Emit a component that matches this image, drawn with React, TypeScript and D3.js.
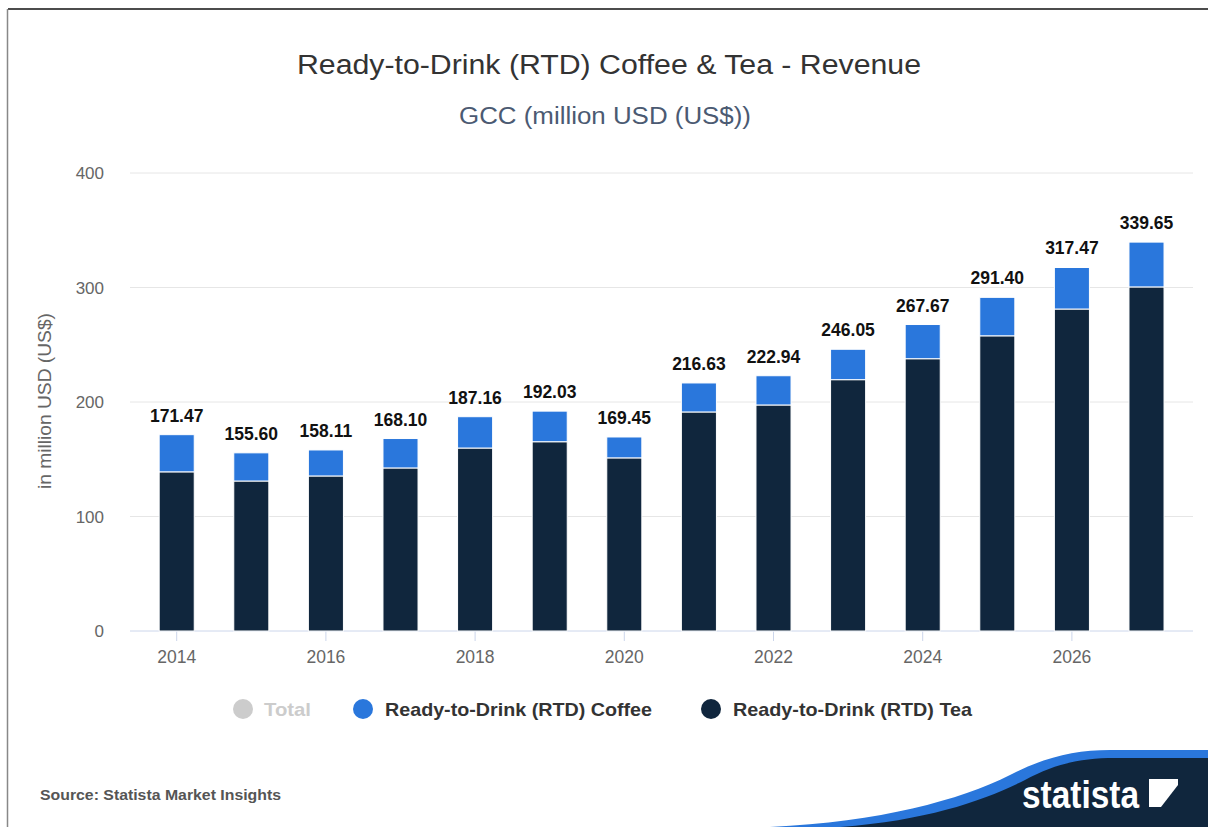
import React from "react";
import * as d3 from "d3";

const years = ["2014","2015","2016","2017","2018","2019","2020","2021","2022","2023","2024","2025","2026","2027"];
const totals = [171.47,155.6,158.11,168.1,187.16,192.03,169.45,216.63,222.94,246.05,267.67,291.4,317.47,339.65];
const tea = [139.0,131.0,135.4,142.4,159.8,165.3,151.2,191.3,197.4,219.5,237.8,257.8,281.2,300.5];
const coffee = totals.map((t, i) => +(t - tea[i]).toFixed(2));
const yTicks = [0,100,200,300,400];
const xTickYears = ["2014","2016","2018","2020","2022","2024","2026"];

const W = 1208, H = 827;
const FONT = "'Liberation Sans', Arial, Helvetica, sans-serif";
const COFFEE = "#2a77dc";
const TEA = "#10263d";

export default function App() {
  const x = d3.scaleBand<string>().domain(years).range([139.4, 1183.8]).paddingInner(0.53).paddingOuter(0.265);
  const y = d3.scaleLinear().domain([0, 400]).range([631, 173]);
  const stack = d3.stack<any>().keys(["tea","coffee"])(years.map((yr, i) => ({ yr, tea: tea[i], coffee: coffee[i] })));
  const colors: Record<string,string> = { tea: TEA, coffee: COFFEE };
  return (
    <div style={{ position: "absolute", left: 0, top: 0, width: W, height: H, background: "#fff" }}>
      <svg width={W} height={H} style={{ display: "block", fontFamily: FONT }}>
        <rect x={0} y={0} width={W} height={H} fill="#fff" />
        <line x1={8} y1={9} x2={W} y2={9} stroke="#111" strokeWidth={1.5} />
        <line x1={7.5} y1={9} x2={7.5} y2={H} stroke="#888" strokeWidth={1.5} />
        <text x={297} y={74} fontSize={27} fill="#333" textLength={624} lengthAdjust="spacingAndGlyphs">Ready-to-Drink (RTD) Coffee &amp; Tea - Revenue</text>
        <text x={459} y={124} fontSize={23} fill="#4b5a72" textLength={292} lengthAdjust="spacingAndGlyphs">GCC (million USD (US$))</text>
        {yTicks.map(t => (
          <g key={t}>
            <line x1={130} x2={1193} y1={y(t)} y2={y(t)} stroke={t === 0 ? "#ccd6eb" : "#e6e6e6"} strokeWidth={1} />
            <text x={104} y={y(t) + 6} textAnchor="end" fontSize={17} fill="#666">{t}</text>
          </g>
        ))}
        <text transform={`translate(51,401) rotate(-90)`} textAnchor="middle" fontSize={18} fill="#666" textLength={176} lengthAdjust="spacingAndGlyphs">in million USD (US$)</text>
        {xTickYears.map(yr => {
          const cx = (x(yr) as number) + x.bandwidth() / 2;
          return (
            <g key={yr}>
              <line x1={cx} x2={cx} y1={631} y2={641} stroke="#ccd6eb" />
              <text x={cx} y={663} textAnchor="middle" fontSize={17.5} fill="#666">{yr}</text>
            </g>
          );
        })}
        {stack.map(layer => (
          <g key={layer.key}>
            {layer.map((d, i) => (
              <rect key={i} x={x(years[i])} width={x.bandwidth()} y={y(d[1])} height={y(d[0]) - y(d[1])}
                fill={colors[layer.key]} stroke="#fff" strokeWidth={1} />
            ))}
          </g>
        ))}
        {years.map((yr, i) => (
          <text key={yr} x={(x(yr) as number) + x.bandwidth() / 2} y={y(totals[i]) - 13} textAnchor="middle"
            fontSize={17.5} fontWeight="bold" fill="#111">{totals[i].toFixed(2)}</text>
        ))}
        <g fontSize={19} fontWeight="bold">
          <circle cx={243} cy={709} r={10} fill="#cccccc" />
          <text x={264} y={716} fill="#cccccc" textLength={47} lengthAdjust="spacingAndGlyphs">Total</text>
          <circle cx={363} cy={709} r={10} fill={COFFEE} />
          <text x={385} y={716} fill="#333" textLength={267} lengthAdjust="spacingAndGlyphs">Ready-to-Drink (RTD) Coffee</text>
          <circle cx={711} cy={709} r={10} fill={TEA} />
          <text x={733} y={716} fill="#333" textLength={239} lengthAdjust="spacingAndGlyphs">Ready-to-Drink (RTD) Tea</text>
        </g>
        <text x={40} y={800} fontSize={15} fontWeight="bold" fill="#555" textLength={241} lengthAdjust="spacingAndGlyphs">Source: Statista Market Insights</text>
        <path d="M770,827 C880,822 960,800 1010,775 C1045,757 1075,750 1110,750 L1208,750 L1208,827 Z" fill={COFFEE} />
        <path d="M840,827 C930,820 985,800 1025,780 C1055,764 1080,758 1115,758 L1208,758 L1208,827 Z" fill={TEA} />
        <text x={1022} y={808} fontSize={38} fontWeight="bold" fill="#fff" textLength={117} lengthAdjust="spacingAndGlyphs">statista</text>
        <path d="M1149,779 L1178,779 L1178,785 L1161,807 L1149,807 Z" fill="#fff" />
      </svg>
    </div>
  );
}
